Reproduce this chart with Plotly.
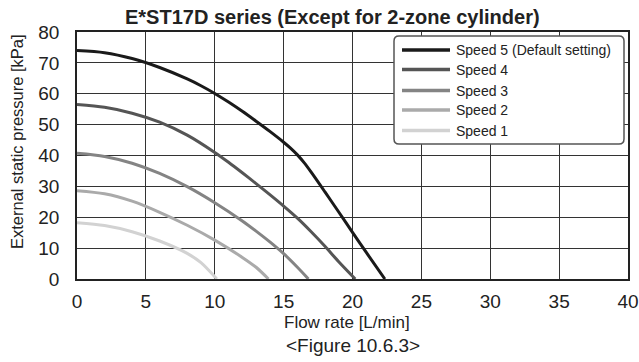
import plotly.graph_objects as go

# Pump characteristic curves: flow rate [L/min] vs external static pressure [kPa]
speed5_flow = [0, 2, 4, 6, 8, 9, 10, 11, 12, 13, 14, 15, 15.5, 16, 16.5, 17, 18, 19, 20, 21, 22.35]
speed5_kpa = [74, 73.3, 71.4, 68.5, 64.8, 62.6, 60.1, 57.3, 54.3, 51.1, 47.8, 44.3, 42.4, 40.2, 37.6,
              34.6, 28.2, 21.7, 15.1, 8.6, 0]

speed4_flow = [0, 2, 4, 6, 8, 10, 11, 12, 13, 14, 15, 16, 17, 18, 19, 20.2]
speed4_kpa = [56.5, 55.6, 53.7, 50.8, 46.6, 41, 37.8, 34.4, 30.9, 27.3, 23.6, 19.7, 15.3, 10.6, 5.6, 0]

speed3_flow = [0, 2, 4, 6, 8, 10, 12, 13, 14, 15, 16, 16.8]
speed3_kpa = [40.7, 39.7, 37.5, 34.2, 29.9, 24.7, 18.8, 15.5, 12, 8.2, 3.8, 0]

speed2_flow = [0, 2, 4, 6, 8, 10, 12, 13, 13.9]
speed2_kpa = [28.6, 27.6, 25.2, 21.6, 17.4, 12.6, 7, 3.8, 0]

speed1_flow = [0, 2, 4, 6, 8, 9, 10.15]
speed1_kpa = [18.2, 17.3, 15.3, 12.3, 8.3, 5.3, 0]

series_names = ["Speed 5 (Default setting)", "Speed 4", "Speed 3", "Speed 2", "Speed 1"]
series_colors = ["#1a1a1a", "#555555", "#848484", "#aaaaaa", "#d2d2d2"]
series_data = [
    (speed5_flow, speed5_kpa),
    (speed4_flow, speed4_kpa),
    (speed3_flow, speed3_kpa),
    (speed2_flow, speed2_kpa),
    (speed1_flow, speed1_kpa),
]

x_ticks = [0, 5, 10, 15, 20, 25, 30, 35, 40]
y_ticks = [0, 10, 20, 30, 40, 50, 60, 70, 80]

W, H = 639, 362
L, R, T, B = 77, 11, 32, 83
PW, PH = W - L - R, H - T - B


def px(x):
    return (x - L) / PW


def py(y):
    return (H - B - y) / PH


fig = go.Figure()
for (fx, fy), name, color in zip(series_data, series_names, series_colors):
    fig.add_trace(go.Scatter(
        x=fx, y=fy, mode="lines", name=name,
        line=dict(color=color, width=3, shape="spline", smoothing=0.8),
        showlegend=False,
    ))

FONT = "Liberation Sans, Arial, sans-serif"
TXT = "#222222"

# Legend drawn as a rounded box with sample lines
shapes = []
annotations = []
bx0, bx1, by0, by1, r = 394, 624, 36, 144, 5
path = (
    f"M {px(bx0 + r)},{py(by0)} L {px(bx1 - r)},{py(by0)} "
    f"Q {px(bx1)},{py(by0)} {px(bx1)},{py(by0 + r)} "
    f"L {px(bx1)},{py(by1 - r)} "
    f"Q {px(bx1)},{py(by1)} {px(bx1 - r)},{py(by1)} "
    f"L {px(bx0 + r)},{py(by1)} "
    f"Q {px(bx0)},{py(by1)} {px(bx0)},{py(by1 - r)} "
    f"L {px(bx0)},{py(by0 + r)} "
    f"Q {px(bx0)},{py(by0)} {px(bx0 + r)},{py(by0)} Z"
)
shapes.append(dict(type="path", xref="paper", yref="paper", path=path,
                   fillcolor="white", line=dict(color="#555555", width=1.5), layer="above"))
item_y = [50, 69.5, 90.5, 110, 130.5]
for name, color, yy in zip(series_names, series_colors, item_y):
    shapes.append(dict(type="line", xref="paper", yref="paper",
                       x0=px(402), x1=px(450), y0=py(yy), y1=py(yy),
                       line=dict(color=color, width=3.5), layer="above"))
    annotations.append(dict(xref="paper", yref="paper", x=px(454), y=py(yy),
                            text=name, showarrow=False, xanchor="left", yanchor="middle",
                            font=dict(family=FONT, size=14, color=TXT)))

# Title, axis titles and figure caption
annotations.append(dict(xref="paper", yref="paper", x=px(332.5), y=py(17),
                        text="<b>E*ST17D series (Except for 2-zone cylinder)</b>",
                        showarrow=False, xanchor="center", yanchor="middle",
                        font=dict(family=FONT, size=20, color=TXT)))
annotations.append(dict(xref="paper", yref="paper", x=px(17), y=py(142),
                        text="External static pressure [kPa]", showarrow=False,
                        textangle=-90, xanchor="center", yanchor="middle",
                        font=dict(family=FONT, size=16.5, color=TXT)))
annotations.append(dict(xref="paper", yref="paper", x=px(347), y=py(322.5),
                        text="Flow rate [L/min]", showarrow=False,
                        xanchor="center", yanchor="middle",
                        font=dict(family=FONT, size=17, color=TXT)))
annotations.append(dict(xref="paper", yref="paper", x=px(353), y=py(345),
                        text="&lt;Figure 10.6.3&gt;", showarrow=False,
                        xanchor="center", yanchor="middle",
                        font=dict(family=FONT, size=19, color=TXT)))

fig.update_layout(
    width=W, height=H,
    margin=dict(l=L, r=R, t=T, b=B, autoexpand=False),
    paper_bgcolor="white", plot_bgcolor="white",
    shapes=shapes, annotations=annotations,
    showlegend=False,
)
fig.update_xaxes(
    range=[0, 40], tickvals=x_ticks, ticktext=[str(v) for v in x_ticks],
    showgrid=True, gridcolor="#333333", gridwidth=1,
    showline=True, linecolor="#222222", linewidth=1.5, mirror=True,
    ticks="", zeroline=False, automargin=False, ticklabelstandoff=4,
    tickfont=dict(family=FONT, size=19, color=TXT),
)
fig.update_yaxes(
    range=[0, 80], tickvals=y_ticks, ticktext=[str(v) for v in y_ticks],
    showgrid=True, gridcolor="#333333", gridwidth=1,
    showline=True, linecolor="#222222", linewidth=1.5, mirror=True,
    ticks="", zeroline=False, automargin=False, ticklabelstandoff=12,
    tickfont=dict(family=FONT, size=19, color=TXT),
)

fig.write_html("out.html")
